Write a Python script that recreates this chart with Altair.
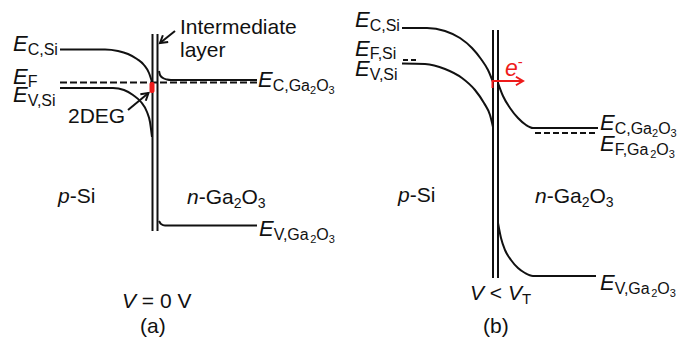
import math
import altair as alt
import pandas as pd

W, H = 677, 348
BLACK = "#111111"
RED = "#ee1b1b"
FONT = "Liberation Sans"

# ---------------- band edges (x, y; y grows downward) ----------------
# panel (a): V = 0 V
ec_si_a_x = [60, 105, 118, 128, 137, 144, 149, 152]
ec_si_a_y = [49.5, 49.5, 51, 54, 59, 65, 73, 82]
ev_si_a_x = [60, 113, 124, 133, 141, 147, 150, 152]
ev_si_a_y = [88, 88, 90, 95, 102, 112, 122, 137]
ec_ga_a_x = [159, 160, 163, 167, 171, 257]
ec_ga_a_y = [71, 75, 78, 79.5, 80, 80]
ev_ga_a_x = [159, 161, 165, 257]
ev_ga_a_y = [221, 224, 225.5, 225.5]

# panel (b): V < V_T
ec_si_b_x = [402, 427, 445, 460, 472, 481, 488, 493]
ec_si_b_y = [28, 28, 31, 38, 48, 59, 70, 82]
ev_si_b_x = [402, 425, 445, 462, 475, 484, 490, 493]
ev_si_b_y = [63.5, 64, 69, 78, 90, 103, 115, 127]
ec_ga_b_x = [498, 503, 510, 518, 526, 533, 598]
ec_ga_b_y = [83, 96, 108, 118, 125, 128, 128]
ev_ga_b_x = [498, 501, 505, 511, 518, 525, 533, 596]
ev_ga_b_y = [223, 238, 250, 260, 268, 273, 276, 276]

# intermediate layer walls: x, top, bottom
wall_x = [152.5, 157.5, 493, 498]
wall_top = [34, 34, 30, 30]
wall_bottom = [231, 231, 278, 278]

# Fermi levels (dashed): x0, x1, y, dash
fermi_x0 = [60, 403, 535]
fermi_x1 = [257, 416, 598]
fermi_y = [82.5, 60, 133]
fermi_dash = [[7, 3], [5, 3], [6, 3]]

# 2DEG sheet
deg_x = [149.5]
deg_x2 = [154.5]
deg_y = [82]
deg_y2 = [93]

# arrows: shaft start -> tip
arrow_x0 = [175, 128, 492]
arrow_y0 = [31, 110, 81]
arrow_x1 = [160, 148.5, 523]
arrow_y1 = [43, 93, 81]
arrow_color = [BLACK, BLACK, RED]
# short red stub at the start of the electron arrow
stub_x = [492.5]
stub_y0 = [80]
stub_y1 = [88]

# ---------------- labels ----------------
# each run: (text, font size, italic, baseline shift); spaces around a run
# only move the pen, they are not drawn
def ga_sub(letter):
    return [("E", 22, 1, 0), (letter + ",Ga", 16, 0, 4), ("2", 11, 0, 7),
            ("O", 16, 0, 4), ("3", 11, 0, 7)]

def si_sub(letter, shift=4):
    return [("E", 22, 1, 0), (letter, 16, 0, shift)]

N_GA = [("n", 21, 1, 0), ("-Ga", 21, 0, 0), ("2", 14, 0, 4), ("O", 21, 0, 0), ("3", 14, 0, 4)]
P_SI = [("p", 21, 1, 0), ("-Si", 21, 0, 0)]

label_x = [13, 13, 13, 258, 259, 58, 187, 68, 180, 180, 122, 140,
           355, 355, 355, 600, 600, 600, 398, 535, 470, 483]
label_y = [51, 84, 102, 87, 236, 203, 204, 123, 34, 57, 308, 333,
           27, 56, 76, 130, 151, 290, 202, 203, 300, 333]
label_runs = [
    si_sub("C,Si"), si_sub("F", 3), si_sub("V,Si"), ga_sub("C"), ga_sub("V"),
    P_SI, N_GA, [("2DEG", 21, 0, 0)], [("Intermediate", 21, 0, 0)],
    [("layer", 21, 0, 0)],
    [("V", 21, 1, 0), (" = ", 21, 0, 0), ("0 ", 21, 0, 0), ("V", 21, 0, 0)],
    [("(a)", 21, 0, 0)],
    si_sub("C,Si"), si_sub("F,Si", 3), si_sub("V,Si"), ga_sub("C"), ga_sub("F"),
    ga_sub("V"), P_SI, N_GA,
    [("V", 21, 1, 0), (" < ", 21, 0, 0), ("V", 21, 1, 0), ("T", 15, 0, 4)],
    [("(b)", 21, 0, 0)],
]
label_color = [BLACK] * len(label_x)

# electron label
e_x, e_y = 505, 76
e_runs = [("e", 23, 1, 0), ("-", 15, 0, -9)]

# approximate Arial advance widths (em)
ADV = {"E": .667, "C": .722, ",": .278, "S": .667, "i": .222, "F": .611,
       "V": .667, "G": .778, "a": .556, "O": .778, "p": .556, "n": .556,
       "-": .333, " ": .278, "=": .584, "0": .556, "<": .584,
       "T": .611, "e": .556, "2": .556, "3": .556}


def width(text, size):
    return sum(ADV.get(ch, .556) for ch in text) * size


def layout(x, y, runs, color, rows):
    cx = x
    for text, size, italic, dy in runs:
        lead = len(text) - len(text.lstrip(" "))
        shown = text.strip(" ")
        rows.append(dict(x=cx + width(" " * lead, size), y=y + dy, text=shown,
                         size=size, italic=italic, color=color))
        cx += width(text, size)


text_rows = []
for lx, ly, runs, col in zip(label_x, label_y, label_runs, label_color):
    layout(lx, ly, runs, col, text_rows)
layout(e_x, e_y, e_runs, RED, text_rows)
text_df = pd.DataFrame(text_rows)

# ---------------- tables ----------------
curve_rows = []
for name, xs_, ys_ in [
    ("ec_si_a", ec_si_a_x, ec_si_a_y), ("ev_si_a", ev_si_a_x, ev_si_a_y),
    ("ec_ga_a", ec_ga_a_x, ec_ga_a_y), ("ev_ga_a", ev_ga_a_x, ev_ga_a_y),
    ("ec_si_b", ec_si_b_x, ec_si_b_y), ("ev_si_b", ev_si_b_x, ev_si_b_y),
    ("ec_ga_b", ec_ga_b_x, ec_ga_b_y), ("ev_ga_b", ev_ga_b_x, ev_ga_b_y),
]:
    for i, (px, py) in enumerate(zip(xs_, ys_)):
        curve_rows.append(dict(curve=name, i=i, x=px, y=py))
curve_df = pd.DataFrame(curve_rows)

wall_df = pd.DataFrame(dict(x=wall_x, x2=wall_x, y=wall_top, y2=wall_bottom))

arrow_df = pd.DataFrame(dict(x=arrow_x0, y=arrow_y0, x2=arrow_x1, y2=arrow_y1,
                             color=arrow_color))
arrow_df["angle"] = [
    (math.degrees(math.atan2(x1 - x0, -(y1 - y0))) + 360) % 360
    for x0, y0, x1, y1 in zip(arrow_x0, arrow_y0, arrow_x1, arrow_y1)
]
stub_df = pd.DataFrame(dict(x=stub_x, x2=stub_x, y=stub_y0, y2=stub_y1))
deg_df = pd.DataFrame(dict(x=deg_x, x2=deg_x2, y=deg_y, y2=deg_y2))

# ---------------- chart ----------------
xs = alt.Scale(domain=[0, W], nice=False, zero=False)
ys = alt.Scale(domain=[0, H], nice=False, zero=False, reverse=True)


def pos(x="x", y="y"):
    return dict(x=alt.X(f"{x}:Q", scale=xs, axis=None),
                y=alt.Y(f"{y}:Q", scale=ys, axis=None))


def seg():
    return dict(**pos(), x2=alt.X2("x2:Q"), y2=alt.Y2("y2:Q"))


curves = alt.Chart(curve_df).mark_line(
    color=BLACK, strokeWidth=2, interpolate="monotone"
).encode(**pos(), detail="curve:N", order="i:Q")

walls = alt.Chart(wall_df).mark_rule(color=BLACK, strokeWidth=2).encode(**seg())

fermi_layers = []
for fx0, fx1, fy, fd in zip(fermi_x0, fermi_x1, fermi_y, fermi_dash):
    d = pd.DataFrame(dict(x=[fx0], x2=[fx1], y=[fy], y2=[fy]))
    fermi_layers.append(
        alt.Chart(d).mark_rule(color=BLACK, strokeWidth=2, strokeDash=fd).encode(**seg())
    )

sheet = alt.Chart(deg_df).mark_rect(color=RED, cornerRadius=2).encode(**seg())

shafts = alt.Chart(arrow_df).mark_rule(strokeWidth=2).encode(
    **seg(), color=alt.Color("color:N", scale=None)
)
heads = alt.Chart(arrow_df).mark_point(
    shape="M -0.6 1 L 0 0 L 0.6 1", filled=False, strokeWidth=2, size=200, opacity=1
).encode(
    x=alt.X("x2:Q", scale=xs, axis=None), y=alt.Y("y2:Q", scale=ys, axis=None),
    angle=alt.Angle("angle:Q", scale=None),
    color=alt.Color("color:N", scale=None),
)
stub = alt.Chart(stub_df).mark_rule(color=RED, strokeWidth=2).encode(**seg())

upright = alt.Chart(text_df).transform_filter("datum.italic == 0").mark_text(
    align="left", baseline="alphabetic", font=FONT
).encode(
    **pos(), text="text:N", size=alt.Size("size:Q", scale=None),
    color=alt.Color("color:N", scale=None),
)
slanted = alt.Chart(text_df).transform_filter("datum.italic == 1").mark_text(
    align="left", baseline="alphabetic", font=FONT, fontStyle="italic"
).encode(
    **pos(), text="text:N", size=alt.Size("size:Q", scale=None),
    color=alt.Color("color:N", scale=None),
)

chart = alt.layer(
    curves, walls, *fermi_layers, sheet, shafts, heads, stub, upright, slanted
).properties(
    width=W, height=H, autosize=alt.AutoSizeParams(type="none"), padding=0,
    background="white",
).configure_view(stroke=None)

chart.save("out.html", embed_options={"renderer": "svg", "actions": False})
